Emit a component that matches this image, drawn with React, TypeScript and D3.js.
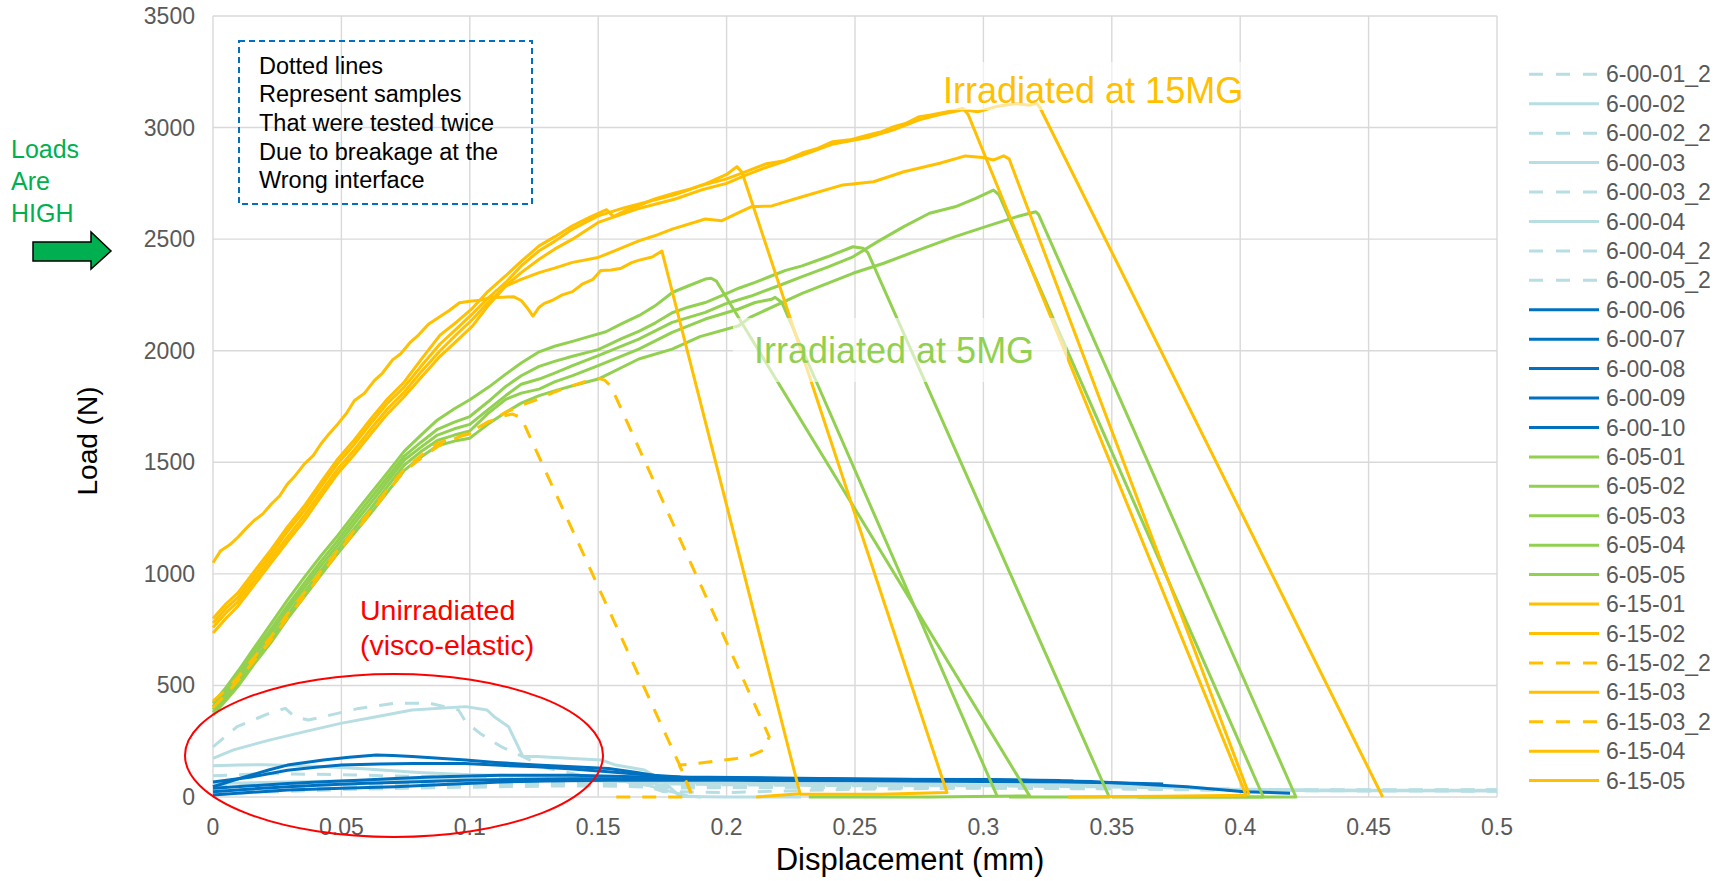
import React from 'react';
import * as d3 from 'd3';

type P = [number, number];

// ---------- axes ----------
const X_TICKS = [0, 0.05, 0.1, 0.15, 0.2, 0.25, 0.3, 0.35, 0.4, 0.45, 0.5];
const X_TICK_LABELS = ['0', '0.05', '0.1', '0.15', '0.2', '0.25', '0.3', '0.35', '0.4', '0.45', '0.5'];
const Y_TICKS = [0, 500, 1000, 1500, 2000, 2500, 3000, 3500];
const Y_TICK_LABELS = ['0', '500', '1000', '1500', '2000', '2500', '3000', '3500'];

// ---------- unirradiated (light blue) ----------
const s_6_00_01_2: P[] = [[0,12],[0.02,22],[0.05,33],[0.08,40],[0.11,46],[0.14,50],[0.16,48],[0.18,40],[0.2,42],[0.25,45],[0.3,45],[0.35,40],[0.4,33],[0.45,30],[0.5,30]];
const s_6_00_02: P[] = [[0,173],[0.008,211],[0.0219,255],[0.0358,293],[0.0497,330],[0.0636,360],[0.0775,390],[0.0984,405],[0.1067,390],[0.1095,360],[0.1151,315],[0.1207,181],[0.1262,181],[0.1401,173],[0.1512,166],[0.1568,143],[0.168,121],[0.1749,76],[0.1819,2],[0.2,0],[0.229,0]];
const s_6_00_02_2: P[] = [[0,225],[0.0094,315],[0.0233,382],[0.0282,397],[0.0317,360],[0.0372,345],[0.0456,367],[0.0567,397],[0.0706,420],[0.0845,420],[0.0956,390],[0.0984,337],[0.104,285],[0.1123,225],[0.1207,181],[0.13,130],[0.15,80],[0.17,60],[0.2,55],[0.25,50],[0.3,50],[0.35,45],[0.4,35],[0.45,30],[0.5,30]];
const s_6_00_03: P[] = [[0,140],[0.01,143],[0.02,145],[0.04,138],[0.06,125],[0.08,110],[0.1,100],[0.12,95],[0.14,90],[0.15,85],[0.16,70],[0.17,50],[0.178,25],[0.185,5],[0.19,0]];
const s_6_00_03_2: P[] = [[0,95],[0.02,105],[0.05,100],[0.08,92],[0.1,88],[0.12,80],[0.14,70],[0.16,62],[0.17,45],[0.175,25],[0.2,20],[0.25,35],[0.3,40],[0.35,38],[0.4,30],[0.45,30],[0.5,31]];
const s_6_00_04: P[] = [[0,60],[0.02,65],[0.05,72],[0.08,78],[0.1,80],[0.13,78],[0.16,70],[0.2,62],[0.25,58],[0.3,55],[0.35,50],[0.38,42],[0.4,32],[0.43,28],[0.46,28],[0.5,27]];
const s_6_00_04_2: P[] = [[0,50],[0.03,55],[0.07,58],[0.1,60],[0.14,62],[0.17,55],[0.2,50],[0.25,48],[0.3,46],[0.35,42],[0.4,34],[0.45,32],[0.5,32]];
const s_6_00_05_2: P[] = [[0,30],[0.03,38],[0.07,45],[0.1,52],[0.14,56],[0.17,50],[0.2,46],[0.25,42],[0.3,40],[0.35,36],[0.4,30],[0.45,27],[0.5,26]];

// ---------- unirradiated (dark blue) ----------
const s_6_00_06: P[] = [[0,46],[0.008,75],[0.015,99],[0.022,122],[0.029,143],[0.036,155],[0.043,166],[0.053,178],[0.0636,188],[0.07,186],[0.0776,181],[0.088,174],[0.0984,166],[0.11,155],[0.126,143],[0.14,136],[0.154,128],[0.165,110],[0.175,91],[0.19,86],[0.205,84],[0.25,80],[0.3,78],[0.3419,69],[0.357,61],[0.3793,46],[0.4016,24],[0.4194,17]];
const s_6_00_07: P[] = [[0,67],[0.015,90],[0.029,120],[0.04,133],[0.05,143],[0.065,148],[0.078,150],[0.098,150],[0.11,143],[0.126,135],[0.14,125],[0.154,113],[0.168,100],[0.182,90],[0.22,85],[0.26,80],[0.3,76],[0.335,72]];
const s_6_00_08: P[] = [[0,39],[0.015,50],[0.029,60],[0.043,68],[0.057,75],[0.071,83],[0.085,90],[0.1,94],[0.112,97],[0.14,97],[0.168,90],[0.2,85],[0.25,80],[0.3,77],[0.33,74]];
const s_6_00_09: P[] = [[0,24],[0.015,36],[0.029,46],[0.043,54],[0.057,60],[0.08,68],[0.098,75],[0.12,79],[0.14,82],[0.168,82],[0.2,80],[0.25,78],[0.29,75]];
const s_6_00_10: P[] = [[0,9],[0.015,21],[0.029,31],[0.05,39],[0.071,46],[0.09,56],[0.112,67],[0.13,72],[0.154,75],[0.2,75],[0.25,73],[0.3,70],[0.33,67],[0.35,64],[0.37,58]];

// ---------- irradiated 5MG (green) ----------
const s_6_05_01: P[] = [[0,420],[0.005,490],[0.01,568],[0.016,668],[0.0227,778],[0.029,882],[0.0356,985],[0.042,1080],[0.0486,1172],[0.055,1268],[0.0615,1362],[0.068,1455],[0.0745,1550],[0.081,1622],[0.0874,1690],[0.094,1740],[0.1,1780],[0.1075,1838],[0.114,1895],[0.12,1945],[0.127,1995],[0.133,2020],[0.14,2042],[0.146,2062],[0.153,2085],[0.159,2120],[0.166,2158],[0.172,2200],[0.179,2262],[0.185,2290],[0.1917,2321],[0.194,2325],[0.196,2312],[0.318,5],[0.28,0],[0.232,0]];
const s_6_05_02: P[] = [[0,380],[0.005,445],[0.01,515],[0.016,612],[0.0227,714],[0.029,816],[0.0356,918],[0.042,1014],[0.0486,1110],[0.055,1202],[0.0615,1294],[0.068,1392],[0.0745,1488],[0.081,1548],[0.0874,1598],[0.094,1622],[0.1,1640],[0.107,1718],[0.114,1782],[0.12,1810],[0.127,1828],[0.133,1860],[0.14,1888],[0.15,1933],[0.1658,2007],[0.1788,2082],[0.1917,2142],[0.2047,2187],[0.2111,2216],[0.2176,2231],[0.2189,2239],[0.2215,2216],[0.3055,0]];
const s_6_05_03: P[] = [[0,405],[0.005,475],[0.01,550],[0.016,650],[0.0227,755],[0.029,858],[0.0356,960],[0.042,1056],[0.0486,1150],[0.055,1246],[0.0615,1340],[0.068,1434],[0.0745,1528],[0.081,1590],[0.0874,1648],[0.094,1680],[0.1,1705],[0.107,1770],[0.114,1840],[0.12,1888],[0.127,1930],[0.133,1952],[0.14,1975],[0.15,2005],[0.1593,2055],[0.166,2088],[0.1723,2125],[0.1788,2170],[0.185,2195],[0.1917,2216],[0.1995,2254],[0.2047,2280],[0.2111,2306],[0.2176,2336],[0.223,2360],[0.2294,2380],[0.2393,2421],[0.2492,2466],[0.2532,2459],[0.255,2440],[0.349,0],[0.31,0]];
const s_6_05_04: P[] = [[0,392],[0.005,462],[0.01,532],[0.016,632],[0.0227,736],[0.029,838],[0.0356,940],[0.042,1036],[0.0486,1130],[0.055,1225],[0.0615,1318],[0.068,1414],[0.0745,1510],[0.081,1568],[0.0874,1622],[0.094,1650],[0.1,1670],[0.107,1735],[0.114,1799],[0.12,1850],[0.127,1873],[0.133,1900],[0.14,1933],[0.15,1978],[0.1658,2052],[0.1788,2127],[0.1917,2172],[0.1995,2210],[0.2095,2245],[0.22,2290],[0.2294,2332],[0.2393,2375],[0.2492,2421],[0.259,2490],[0.269,2556],[0.279,2616],[0.289,2645],[0.297,2683],[0.3039,2720],[0.306,2700],[0.409,0],[0.35,0]];
const s_6_05_05: P[] = [[0,368],[0.005,432],[0.01,500],[0.016,596],[0.0227,694],[0.029,798],[0.0356,898],[0.042,995],[0.0486,1092],[0.055,1182],[0.0615,1272],[0.068,1368],[0.0745,1464],[0.081,1524],[0.0874,1574],[0.094,1595],[0.1,1608],[0.107,1670],[0.114,1724],[0.12,1765],[0.127,1799],[0.133,1820],[0.14,1843],[0.15,1873],[0.1658,1963],[0.1788,2007],[0.1896,2063],[0.2047,2112],[0.2095,2152],[0.2294,2257],[0.2492,2347],[0.2612,2392],[0.2731,2444],[0.289,2511],[0.3009,2556],[0.3128,2600],[0.3204,2623],[0.3215,2610],[0.4217,0],[0.36,0]];

// ---------- irradiated 15MG (orange) ----------
const s_6_15_01: P[] = [[0,1050],[0.003,1104],[0.0065,1130],[0.0097,1164],[0.013,1205],[0.016,1239],[0.0195,1270],[0.0227,1313],[0.026,1350],[0.029,1403],[0.032,1440],[0.0356,1493],[0.039,1530],[0.042,1582],[0.045,1625],[0.0486,1672],[0.052,1720],[0.055,1776],[0.059,1810],[0.0628,1866],[0.066,1900],[0.07,1960],[0.073,1985],[0.077,2040],[0.08,2070],[0.084,2120],[0.088,2150],[0.092,2180],[0.096,2215],[0.1,2222],[0.104,2226],[0.108,2238],[0.113,2240],[0.117,2242],[0.12,2225],[0.1225,2190],[0.1246,2155],[0.127,2195],[0.129,2212],[0.132,2225],[0.136,2250],[0.14,2265],[0.144,2300],[0.148,2320],[0.151,2360],[0.155,2362],[0.159,2370],[0.163,2395],[0.166,2406],[0.171,2420],[0.1748,2447],[0.2286,15],[0.2115,0]];
const s_6_15_02: P[] = [[0,800],[0.005,865],[0.0097,915],[0.016,1010],[0.0227,1110],[0.029,1210],[0.0356,1305],[0.042,1410],[0.0486,1515],[0.055,1600],[0.0615,1695],[0.068,1785],[0.0745,1860],[0.081,1960],[0.0884,2070],[0.095,2130],[0.101,2190],[0.107,2265],[0.114,2336],[0.12,2400],[0.127,2470],[0.133,2510],[0.14,2560],[0.147,2600],[0.1533,2632],[0.1559,2601],[0.161,2630],[0.1663,2653],[0.172,2680],[0.1792,2705],[0.186,2725],[0.1922,2750],[0.2,2790],[0.204,2825],[0.206,2800],[0.2858,20],[0.26,12],[0.2286,12]];
const s_6_15_02_2: P[] = [[0,430],[0.005,480],[0.01,540],[0.016,625],[0.0227,720],[0.029,820],[0.0356,915],[0.042,1010],[0.0486,1105],[0.055,1195],[0.0615,1285],[0.068,1380],[0.0745,1470],[0.081,1530],[0.0874,1585],[0.094,1610],[0.1,1628],[0.107,1680],[0.112,1705],[0.1166,1716],[0.12,1700],[0.1815,148],[0.186,20],[0.186,0],[0.153,0]];
const s_6_15_03: P[] = [[0,780],[0.005,845],[0.0097,895],[0.016,990],[0.0227,1090],[0.029,1190],[0.0356,1285],[0.042,1390],[0.0486,1495],[0.055,1580],[0.0615,1675],[0.068,1765],[0.0745,1838],[0.081,1930],[0.0884,2030],[0.095,2100],[0.101,2165],[0.107,2235],[0.114,2306],[0.12,2380],[0.127,2448],[0.133,2490],[0.14,2545],[0.15,2604],[0.16,2640],[0.17,2670],[0.18,2700],[0.19,2740],[0.2,2770],[0.207,2800],[0.2155,2838],[0.222,2850],[0.2294,2886],[0.235,2905],[0.2413,2937],[0.248,2945],[0.2552,2967],[0.26,2980],[0.2651,3004],[0.27,3020],[0.2751,3049],[0.279,3055],[0.283,3064],[0.288,3075],[0.292,3087],[0.294,3060],[0.4023,8],[0.37,3],[0.333,0]];
const s_6_15_03_2: P[] = [[0,400],[0.005,460],[0.01,525],[0.016,610],[0.0227,705],[0.029,805],[0.0356,900],[0.042,998],[0.0486,1095],[0.055,1185],[0.0615,1275],[0.068,1370],[0.0745,1460],[0.081,1518],[0.0874,1570],[0.094,1605],[0.1,1635],[0.107,1680],[0.114,1724],[0.12,1755],[0.127,1784],[0.133,1815],[0.14,1843],[0.145,1862],[0.15,1876],[0.1525,1868],[0.155,1840],[0.2166,270],[0.2144,211],[0.2099,188],[0.204,173],[0.189,151],[0.1816,143],[0.1831,106],[0.186,24]];
const s_6_15_04: P[] = [[0,760],[0.005,825],[0.0097,875],[0.016,970],[0.0227,1070],[0.029,1165],[0.0356,1262],[0.042,1365],[0.0486,1470],[0.055,1555],[0.0615,1650],[0.068,1740],[0.0745,1815],[0.081,1905],[0.0884,2000],[0.095,2075],[0.101,2140],[0.107,2215],[0.114,2290],[0.12,2350],[0.127,2410],[0.133,2455],[0.14,2500],[0.15,2575],[0.165,2635],[0.18,2680],[0.19,2720],[0.2,2750],[0.207,2785],[0.215,2820],[0.229,2875],[0.241,2925],[0.255,2955],[0.265,2990],[0.275,3035],[0.283,3058],[0.292,3080],[0.2979,3071],[0.3049,3094],[0.3128,3108],[0.318,3100],[0.3207,3110],[0.322,3090],[0.4555,0]];
const s_6_15_05: P[] = [[0,735],[0.005,800],[0.0097,855],[0.016,950],[0.0227,1050],[0.029,1145],[0.0356,1240],[0.042,1345],[0.0486,1450],[0.055,1535],[0.0615,1628],[0.068,1718],[0.0745,1795],[0.081,1880],[0.0884,1975],[0.095,2045],[0.101,2110],[0.107,2200],[0.114,2290],[0.12,2320],[0.127,2350],[0.133,2370],[0.14,2396],[0.15,2418],[0.158,2455],[0.1658,2492],[0.172,2515],[0.1788,2545],[0.1917,2590],[0.198,2582],[0.2047,2619],[0.2095,2645],[0.2176,2649],[0.2294,2690],[0.2453,2743],[0.2572,2757],[0.269,2802],[0.283,2840],[0.293,2873],[0.2998,2866],[0.304,2855],[0.3079,2873],[0.31,2860],[0.4035,10]];

const SERIES_NAMES = ['6-00-01_2','6-00-02','6-00-02_2','6-00-03','6-00-03_2','6-00-04','6-00-04_2','6-00-05_2','6-00-06','6-00-07','6-00-08','6-00-09','6-00-10','6-05-01','6-05-02','6-05-03','6-05-04','6-05-05','6-15-01','6-15-02','6-15-02_2','6-15-03','6-15-03_2','6-15-04','6-15-05'];
const SERIES_DATA: P[][] = [s_6_00_01_2,s_6_00_02,s_6_00_02_2,s_6_00_03,s_6_00_03_2,s_6_00_04,s_6_00_04_2,s_6_00_05_2,s_6_00_06,s_6_00_07,s_6_00_08,s_6_00_09,s_6_00_10,s_6_05_01,s_6_05_02,s_6_05_03,s_6_05_04,s_6_05_05,s_6_15_01,s_6_15_02,s_6_15_02_2,s_6_15_03,s_6_15_03_2,s_6_15_04,s_6_15_05];
const SERIES_GROUP = ['lb','lb','lb','lb','lb','lb','lb','lb','db','db','db','db','db','g','g','g','g','g','o','o','o','o','o','o','o'];
const SERIES_DASHED = [true,false,true,false,true,false,true,true,false,false,false,false,false,false,false,false,false,false,false,false,true,false,true,false,false];

const GROUP_COLOR: Record<string, string> = { lb: '#B7DEE3', db: '#0070C0', g: '#92D050', o: '#FFC000' };

const BOX_LINES = ['Dotted lines', 'Represent samples', 'That were tested twice', 'Due to breakage at the', 'Wrong interface'];
const LEFT_NOTE = ['Loads', 'Are', 'HIGH'];

const FONT = '"Liberation Sans", Arial, sans-serif';

export default function App() {
  const W = 1729, H = 881;
  const x = d3.scaleLinear().domain([0, 0.5]).range([213, 1497]);
  const y = d3.scaleLinear().domain([0, 3500]).range([797, 16]);
  const line = d3.line<P>().x(d => x(d[0])).y(d => y(d[1]));

  const legendX0 = 1529, legendX1 = 1599, legendTextX = 1606, legendY0 = 74.3, legendDy = 29.43;

  return (
    <svg width={W} height={H} style={{ position: 'absolute', left: 0, top: 0, background: '#fff' }} fontFamily={FONT}>
      <rect x={0} y={0} width={W} height={H} fill="#fff" />
      {/* gridlines */}
      {Y_TICKS.map(t => (
        <line key={'gy' + t} x1={x(0)} x2={x(0.5)} y1={y(t)} y2={y(t)} stroke="#D9D9D9" strokeWidth={1.4} />
      ))}
      {X_TICKS.map(t => (
        <line key={'gx' + t} x1={x(t)} x2={x(t)} y1={y(0)} y2={y(3500)} stroke="#D9D9D9" strokeWidth={1.4} />
      ))}
      {/* tick labels */}
      {Y_TICKS.map((t, i) => (
        <text key={'ty' + t} x={195} y={y(t)} dy="0.35em" textAnchor="end" fontSize={23} fill="#595959">{Y_TICK_LABELS[i]}</text>
      ))}
      {X_TICKS.map((t, i) => (
        <text key={'tx' + t} x={x(t)} y={835} textAnchor="middle" fontSize={23} fill="#595959">{X_TICK_LABELS[i]}</text>
      ))}
      {/* axis titles */}
      <text x={910} y={870} textAnchor="middle" fontSize={31} fill="#000">Displacement (mm)</text>
      <text transform="translate(97,441) rotate(-90)" textAnchor="middle" fontSize={28} fill="#000">Load (N)</text>

      {/* series */}
      <g fill="none" strokeLinejoin="round">
        {SERIES_DATA.map((data, i) => (
          <path key={SERIES_NAMES[i]} d={line(data) || ''} stroke={GROUP_COLOR[SERIES_GROUP[i]]} strokeWidth={3}
            strokeDasharray={SERIES_DASHED[i] ? '14,12' : undefined} />
        ))}
      </g>

      {/* annotation: dashed note box */}
      <rect x={239} y={41} width={293} height={163} fill="none" stroke="#0070C0" strokeWidth={2} strokeDasharray="6,4" />
      {BOX_LINES.map((s, i) => (
        <text key={s} x={259} y={73.5 + i * 28.7} fontSize={23.5} fill="#000">{s}</text>
      ))}

      {/* left note and arrow */}
      {LEFT_NOTE.map((s, i) => (
        <text key={s} x={11} y={158 + i * 32} fontSize={25} fill="#00B050">{s}</text>
      ))}
      <polygon points="33,242 91,242 91,232 111,251 91,269 91,261 33,261" fill="#00B050" stroke="#000" strokeWidth={1.5} />

      {/* group labels */}
      <rect x={924} y={62} width={327} height={48} fill="#fff" opacity={0.6} />
      <text x={943} y={103} fontSize={36} fill="#FFC000">Irradiated at 15MG</text>
      <rect x={733} y={318} width={334} height={64} fill="#fff" opacity={0.6} />
      <text x={754} y={363} fontSize={36} fill="#92D050">Irradiated at 5MG</text>

      <text x={360} y={620} fontSize={28.5} fill="#FF0000">Unirradiated</text>
      <text x={360} y={655} fontSize={28.5} fill="#FF0000">(visco-elastic)</text>
      <ellipse cx={394} cy={755.5} rx={209} ry={81.5} fill="none" stroke="#FF0000" strokeWidth={2} />

      {/* legend */}
      {SERIES_NAMES.map((name, i) => {
        const ly = legendY0 + i * legendDy;
        return (
          <g key={'lg' + name}>
            <line x1={legendX0} x2={legendX1} y1={ly} y2={ly} stroke={GROUP_COLOR[SERIES_GROUP[i]]} strokeWidth={3}
              strokeDasharray={SERIES_DASHED[i] ? '14,13' : undefined} />
            <text x={legendTextX} y={ly} dy="0.35em" fontSize={23} fill="#595959">{name}</text>
          </g>
        );
      })}
    </svg>
  );
}
